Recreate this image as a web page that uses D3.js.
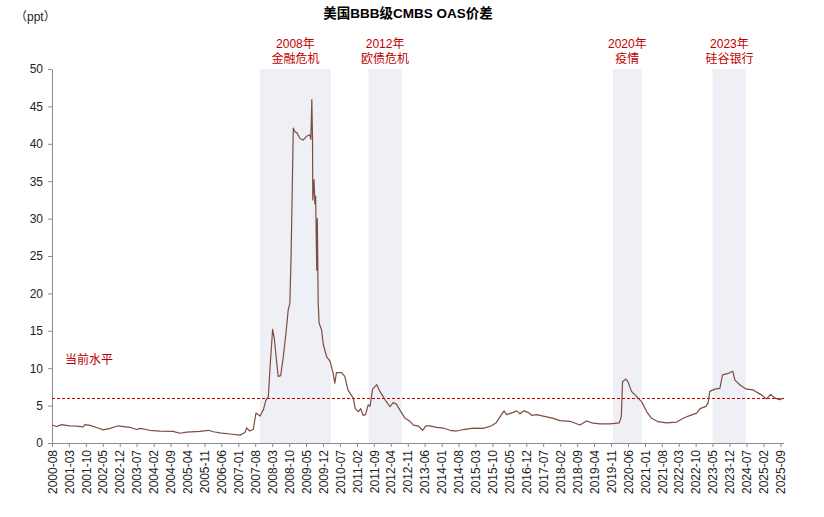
<!DOCTYPE html>
<html><head><meta charset="utf-8">
<script src="https://cdn.jsdelivr.net/npm/d3@7"></script>
<style>
body{margin:0;background:#fff}
svg{display:block}
text{font-family:"Liberation Sans",Arial,"Noto Sans CJK SC",sans-serif}
</style>
</head><body>
<svg id="c" width="824" height="517"></svg>
<script>
// ---- data ----
const title = "美国BBB级CMBS OAS价差";
const unitLabel = "（ppt）";
const levelLabel = "当前水平";
const currentLevel = 5.95;

const dates = [
"2000-08-01","2000-09-28","2000-12-01","2001-03-10","2001-06-10","2001-08-28","2001-09-19","2001-11-22",
"2002-03-04","2002-05-07","2002-08-01","2002-11-13","2003-01-20","2003-04-07","2003-07-01","2003-08-13",
"2003-12-16","2004-04-19","2004-10-01","2004-12-28","2005-03-22","2005-09-07","2005-12-19","2006-02-22",
"2006-05-13","2006-09-19","2007-01-22","2007-03-25","2007-04-16","2007-05-25","2007-07-07","2007-08-10",
"2007-10-01","2007-11-10","2007-12-13","2008-01-13","2008-02-04","2008-03-07","2008-03-28","2008-04-28",
"2008-05-16","2008-06-16","2008-07-19","2008-08-22","2008-09-19","2008-10-10","2008-10-25","2008-11-22",
"2008-12-13","2009-01-04","2009-02-16","2009-03-25","2009-05-07","2009-06-19","2009-07-01","2009-07-13",
"2009-07-22","2009-07-25","2009-08-10","2009-08-20","2009-08-30","2009-09-13","2009-09-20","2009-10-01",
"2009-10-13","2009-11-13","2009-12-04","2010-01-16","2010-02-28","2010-04-07","2010-04-28","2010-05-19",
"2010-07-22","2010-09-01","2010-10-10","2010-12-16","2011-01-10","2011-01-28","2011-02-20","2011-03-19",
"2011-04-19","2011-05-20","2011-06-22","2011-07-15","2011-08-16","2011-10-07","2011-11-16","2012-01-19",
"2012-03-22","2012-05-01","2012-06-10","2012-07-25","2012-09-28","2012-11-28","2013-01-10","2013-03-10",
"2013-05-07","2013-06-16","2013-08-01","2013-11-01","2014-01-22","2014-04-16","2014-07-07","2014-10-01",
"2015-02-04","2015-06-07","2015-09-22","2015-11-22","2016-01-04","2016-02-25","2016-03-28","2016-06-19",
"2016-08-01","2016-09-13","2016-11-01","2016-12-22","2017-02-07","2017-04-10","2017-07-01","2017-11-07",
"2018-01-28","2018-06-01","2018-10-07","2018-12-28","2019-03-01","2019-06-13","2019-10-19","2020-02-13",
"2020-03-10","2020-03-25","2020-05-07","2020-06-01","2020-07-16","2020-09-19","2020-11-22","2021-01-22",
"2021-03-25","2021-06-16","2021-10-01","2022-02-04","2022-04-28","2022-07-01","2022-10-13","2022-11-25",
"2023-02-07","2023-03-07","2023-03-28","2023-06-01","2023-08-01","2023-09-04","2023-11-16","2024-01-10",
"2024-02-07","2024-04-10","2024-07-01","2024-09-25","2024-11-07","2025-01-10","2025-03-10","2025-05-01",
"2025-06-25","2025-08-25","2025-10-07"
];
const values = [
2.4,2.2,2.45,2.3,2.25,2.15,2.45,2.35,
2.0,1.75,1.95,2.3,2.2,2.1,1.8,1.95,
1.7,1.6,1.55,1.3,1.45,1.55,1.7,1.5,
1.35,1.2,1.05,1.4,2.0,1.6,1.8,4.0,
3.6,4.4,5.7,6.2,10.2,15.2,14.0,10.7,
8.9,9.0,11.5,14.7,17.8,18.7,24.9,42.1,
41.6,41.5,40.7,40.5,41.0,41.2,40.6,45.9,
40.5,32.5,35.2,32.0,33.0,23.1,30.0,18.7,
16.0,15.1,13.2,11.5,10.9,9.3,8.0,9.4,
9.4,8.9,7.1,6.0,4.6,4.4,4.2,4.6,
3.7,3.8,5.1,4.9,7.2,7.8,6.9,5.8,
4.85,5.4,5.2,4.4,3.3,2.9,2.4,2.3,
1.7,2.3,2.3,2.1,2.0,1.7,1.6,1.8,
2.0,1.95,2.3,2.75,3.5,4.3,3.8,4.1,
4.3,3.9,4.3,4.1,3.7,3.8,3.6,3.3,
3.0,2.9,2.4,2.95,2.7,2.55,2.55,2.7,
3.5,8.2,8.55,8.2,6.9,6.2,5.5,4.2,
3.3,2.85,2.7,2.8,3.3,3.6,4.0,4.6,
4.9,5.4,6.9,7.2,7.3,9.1,9.3,9.6,
8.4,7.75,7.2,7.1,6.8,6.4,5.9,6.5,
6.0,5.8,6.0
];

const bandStart = ["2007-10-01","2011-06-27","2019-11-24","2023-05-03"];
const bandEnd   = ["2010-03-09","2012-08-16","2020-11-24","2024-06-27"];
const bandYear  = ["2008年","2012年","2020年","2023年"];
const bandEvent = ["金融危机","欧债危机","疫情","硅谷银行"];

const xTickLabels = ["2000-08","2001-03","2001-10","2002-05","2002-12","2003-07","2004-02","2004-09",
"2005-04","2005-11","2006-06","2007-01","2007-08","2008-03","2008-10","2009-05","2009-12","2010-07",
"2011-02","2011-09","2012-04","2012-11","2013-06","2014-01","2014-08","2015-03","2015-10","2016-05",
"2016-12","2017-07","2018-02","2018-09","2019-04","2019-11","2020-06","2021-01","2021-08","2022-03",
"2022-10","2023-05","2023-12","2024-07","2025-02","2025-09"];
const yTicks = [0,5,10,15,20,25,30,35,40,45,50];
const xDomain = ["2000-08-01","2025-10-16"];

// ---- drawing ----
const parse = d3.timeParse("%Y-%m-%d");
const parseM = d3.timeParse("%Y-%m");
const svg = d3.select("#c");
const L = 52, R = 784, T = 69, B = 443;

const x = d3.scaleTime().domain(xDomain.map(parse)).range([L, R]);
const y = d3.scaleLinear().domain([0, 50]).range([B, T]);

const red = "#c00000";

// bands
svg.append("g").selectAll("rect").data(bandStart).join("rect")
  .attr("x", (d) => x(parse(d)))
  .attr("width", (d, i) => x(parse(bandEnd[i])) - x(parse(d)))
  .attr("y", y(50)).attr("height", y(0) - y(50))
  .attr("fill", "#eef0f5");

// band labels
const bl = svg.append("g").attr("fill", red).attr("font-size", 12).attr("text-anchor", "middle");
bandStart.forEach((d, i) => {
  const cx = (x(parse(d)) + x(parse(bandEnd[i]))) / 2;
  bl.append("text").attr("x", cx).attr("y", 48).text(bandYear[i]);
  bl.append("text").attr("x", cx).attr("y", 63).text(bandEvent[i]);
});

// y axis
const yAxis = svg.append("g").attr("transform", `translate(${L},0)`)
  .call(d3.axisLeft(y).tickValues(yTicks).tickSize(4).tickPadding(5).tickSizeOuter(0));
yAxis.selectAll("path,line").attr("stroke", "#8c8c8c");
yAxis.selectAll("text").attr("font-size", 12).attr("fill", "#222")
  .style("font-family", '"Liberation Sans",Arial,sans-serif');

// x axis
const xAxis = svg.append("g").attr("transform", `translate(0,${B})`)
  .call(d3.axisBottom(x).tickValues(xTickLabels.map(parseM)).tickFormat(d3.timeFormat("%Y-%m"))
    .tickSize(4).tickSizeOuter(0));
xAxis.select("path").attr("d", `M${L},0.5H${R}`);
xAxis.selectAll("path,line").attr("stroke", "#8c8c8c");
xAxis.selectAll("text").attr("font-size", 12).attr("fill", "#222")
  .style("font-family", '"Liberation Sans",Arial,sans-serif')
  .attr("transform", "rotate(-90)").attr("text-anchor", "end")
  .attr("x", -7).attr("y", 0).attr("dy", "0.35em");

// current level dashed line
svg.append("line")
  .attr("x1", L).attr("x2", R)
  .attr("y1", y(currentLevel)).attr("y2", y(currentLevel))
  .attr("stroke", red).attr("stroke-width", 1).attr("stroke-dasharray", "3,2");

svg.append("text").attr("x", 65).attr("y", 364).attr("fill", red).attr("font-size", 12).text(levelLabel);

// series line
const pts = dates.map((d, i) => [parse(d), values[i]]);
svg.append("path").datum(pts)
  .attr("fill", "none").attr("stroke", "#7f4c42").attr("stroke-width", 1.2)
  .attr("stroke-linejoin", "round")
  .attr("d", d3.line().x((d) => x(d[0])).y((d) => y(d[1])));

// title & unit
svg.append("text").attr("x", 408).attr("y", 18).attr("text-anchor", "middle")
  .attr("font-size", 13.5).attr("font-weight", "bold").attr("fill", "#000").text(title);
svg.append("text").attr("x", 15).attr("y", 21).attr("font-size", 12).attr("fill", "#222").text(unitLabel);
</script>
</body></html>
